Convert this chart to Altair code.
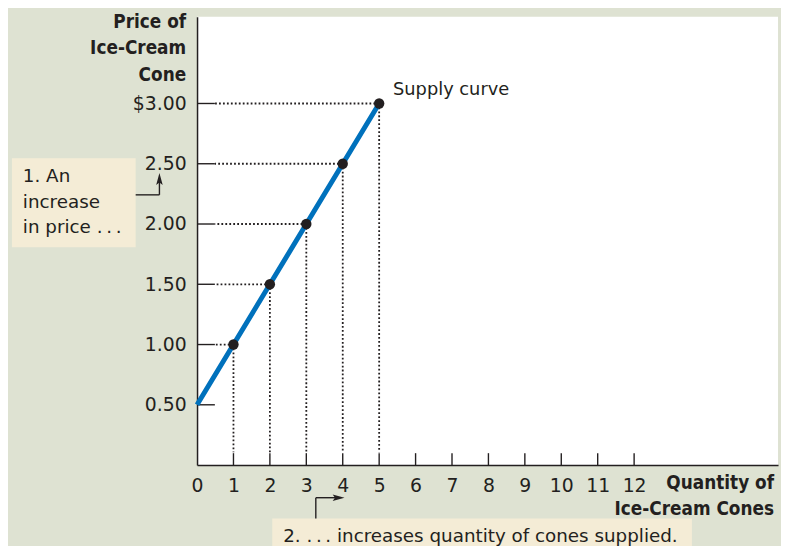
import altair as alt
import pandas as pd

# ---------------- data ----------------
line_q = [0, 1, 2, 3, 4, 5]
line_p = [0.50, 1.00, 1.50, 2.00, 2.50, 3.00]
point_q = [1, 2, 3, 4, 5]
point_p = [1.00, 1.50, 2.00, 2.50, 3.00]
x_ticks = list(range(0, 13))
y_ticks = [0.50, 1.00, 1.50, 2.00, 2.50, 3.00]

y_title = "Price of\nIce-Cream\nCone"
x_title = "Quantity of\nIce-Cream Cones"
curve_label = "Supply curve"
note1 = "1. An\nincrease\n\u00a0in price .\u2009.\u2009."
note2 = "2. .\u2009.\u2009. increases quantity of cones supplied."

# ---------------- style ----------------
INK = "#231f20"
BLUE = "#0071bc"
BG = "#dee2d2"
CREAM = "#f4ecd6"
FONT = "DejaVu Sans"
BOLD = "DejaVu Sans Condensed, Liberation Sans Narrow, DejaVu Sans"

W, H = 587, 453
PX_X = 36.8
PX_Y = 121.77
x_max = W / PX_X
y_max = H / PX_Y

xs = alt.Scale(domain=[0, x_max], nice=False, zero=False)
ys = alt.Scale(domain=[0, y_max], nice=False)

x_axis = alt.Axis(values=x_ticks, title=None, grid=False, ticks=False, tickSize=0,
                  domain=True, domainColor=INK, domainWidth=1.5,
                  labelFont=FONT, labelFontSize=19, labelColor=INK,
                  labelPadding=12, labelFlush=False, labelOverlap=False)
y_axis = alt.Axis(values=y_ticks, title=None, grid=False, ticks=False, tickSize=0,
                  domain=True, domainColor=INK, domainWidth=1.5,
                  labelFont=FONT, labelFontSize=19, labelColor=INK,
                  labelPadding=11, labelFlush=False, labelOverlap=False,
                  labelExpr="datum.value == 3 ? '$3.00' : format(datum.value, '.2f')")

X = alt.X("q:Q", scale=xs, axis=x_axis)
Y = alt.Y("p:Q", scale=ys, axis=y_axis)

line_df = pd.DataFrame({"q": line_q, "p": line_p})
pts_df = pd.DataFrame({"q": point_q, "p": point_p})
one = pd.DataFrame({"a": [0]})


def text_at(text, x, y, align="left", bold=False, size=17, line_height=26):
    # y is the centre of the first line
    return alt.Chart(pd.DataFrame({"t": [text]})).mark_text(
        align=align, baseline="middle", lineBreak="\n", lineHeight=line_height,
        font=BOLD if bold else FONT, fontWeight="bold" if bold else "normal",
        fontSize=size, color=INK,
    ).encode(x=alt.value(x), y=alt.value(y), text="t:N")


def rect_at(x, x2, y, y2):
    return alt.Chart(one).mark_rect(color=CREAM).encode(
        x=alt.value(x), x2=alt.value(x2), y=alt.value(y), y2=alt.value(y2))


def seg(x, x2, y, y2):
    return alt.Chart(one).mark_rule(color=INK, strokeWidth=1.4).encode(
        x=alt.value(x), x2=alt.value(x2), y=alt.value(y), y2=alt.value(y2))


def head(shape, x, y):
    return alt.Chart(one).mark_point(shape=shape, filled=True, size=144, color=INK,
                                     opacity=1, strokeWidth=0).encode(
        x=alt.value(x), y=alt.value(y))


UP = "M0,-1 L0.55,1 L0,0.6 L-0.55,1 Z"
RIGHT = "M1,0 L-1,0.55 L-0.6,0 L-1,-0.55 Z"

# dotted guides
h_dots = alt.Chart(pts_df).mark_rule(color=INK, strokeWidth=1.8, strokeDash=[1.8, 2.2]).encode(
    x=X, x2=alt.value(18), y=Y)
v_dots = alt.Chart(pts_df).mark_rule(color=INK, strokeWidth=1.8, strokeDash=[1.8, 2.2]).encode(
    x=X, y=Y, y2=alt.value(440))

# inner ticks
y_tick_marks = alt.Chart(pd.DataFrame({"p": y_ticks})).mark_rule(color=INK, strokeWidth=1.4).encode(
    y=Y, x=alt.value(0), x2=alt.value(18))
x_tick_marks = alt.Chart(pd.DataFrame({"q": x_ticks[1:]})).mark_rule(color=INK, strokeWidth=1.4).encode(
    x=X, y=alt.value(441), y2=alt.value(H))

supply = alt.Chart(line_df).mark_line(color=BLUE, strokeWidth=5, strokeCap="butt").encode(x=X, y=Y)
dots = alt.Chart(pts_df).mark_circle(size=110, color=INK, opacity=1).encode(x=X, y=Y)

label = alt.Chart(pd.DataFrame({"q": [point_q[-1]], "p": [point_p[-1]], "t": [curve_label]})).mark_text(
    align="left", baseline="middle", dx=14, dy=-14, font=FONT, fontSize=18, color=INK
).encode(x=X, y=Y, text="t:N")

chart = alt.layer(
    h_dots, v_dots, y_tick_marks, x_tick_marks, supply, dots, label,
    rect_at(-187, -62, 143, 233),
    rect_at(76, 500, 507, 545),
    text_at(note1, -176, 161, "left", size=18.5, line_height=26),
    text_at(note2, 87, 525, "left", size=18.5),
    seg(-62, -38, 180, 180),
    seg(-38, -38, 180, 166),
    head(UP, -38, 164),
    seg(120, 120, 507, 486),
    seg(120, 141, 486, 486),
    head(RIGHT, 143, 486),
    text_at(y_title, -11, 5, "right", bold=True, size=19, line_height=27),
    text_at(x_title, 583, 471, "right", bold=True, size=19, line_height=26),
).properties(
    width=W, height=H,
    padding={"left": 191, "top": 6, "right": 3, "bottom": 79},
    autosize="none",
    background=BG,
).configure_view(fill="white", stroke=None)

chart.save("out.html", embed_options={"renderer": "svg", "actions": False})
